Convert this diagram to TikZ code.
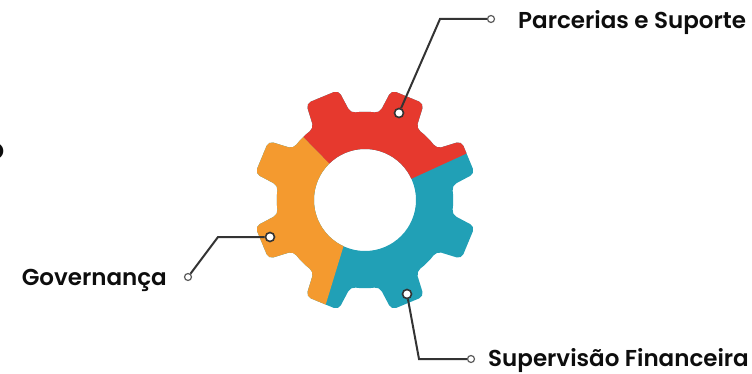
\documentclass[tikz,border=0pt]{standalone}
\usepackage{fontspec}
\setmainfont{Poppins}[BoldFont={Poppins SemiBold}]
\definecolor{gred}{HTML}{E6392E}
\definecolor{gorange}{HTML}{F49A2F}
\definecolor{gteal}{HTML}{21A0B6}
\definecolor{lineclr}{HTML}{333333}
\tikzset{
  conn/.style={draw=lineclr, line width=2pt},
  gdot/.style={circle, draw=lineclr, fill=white, line width=1.6pt, minimum size=9pt, inner sep=0pt},
  edot/.style={circle, draw=lineclr!80, fill=white, line width=1.2pt, minimum size=7pt, inner sep=0pt},
  lbl/.style={inner sep=0pt, font=\fontsize{23}{27}\selectfont\bfseries, text=black!95},
}
\newcommand{\gearoutline}{(-9.4:88)
  \foreach \a in {22.5,67.5,...,292.5}{
    arc[start angle=\a-45+13.1, end angle=\a-13.1, radius=88]
    -- (\a-8.9:113) -- (\a+8.9:113) -- (\a+13.1:88) }
  arc[start angle=337.5-45+13.1, end angle=337.5-13.1, radius=88]
  -- (337.5-8.9:113) -- (337.5+8.9:113) -- cycle}
\begin{document}
\begin{tikzpicture}[x=1pt,y=1pt]
\useasboundingbox (0,0) rectangle (752,-374);
% gear
\begin{scope}[shift={(365,-200)}]
  \fill[gteal, even odd rule, rounded corners=5pt] \gearoutline (0,0) circle[radius=51];
  \begin{scope}
    \clip (0,0) -- (24.6:200) -- (200,200) -- (134.5:200) -- cycle;
    \fill[gred, even odd rule, rounded corners=5pt] \gearoutline (0,0) circle[radius=51];
  \end{scope}
  \begin{scope}
    \clip (0,0) -- (134.5:200) -- (-250,142.6) -- (-250,-200) -- (-68.4,-200) -- (-7.4,0) -- cycle;
    \fill[gorange, even odd rule, rounded corners=5pt] \gearoutline (0,0) circle[radius=51];
  \end{scope}
\end{scope}
% dots and ends
\node[gdot] (d1) at (399,-113) {};
\node[gdot] (d2) at (270,-237) {};
\node[gdot] (d3) at (407,-294) {};
\node[edot] (e1) at (491,-19) {};
\node[edot] (e2) at (188,-277) {};
\node[edot] (e3) at (471,-359) {};
\coordinate (b1) at (440,-19);
\coordinate (b2) at (218,-237);
\coordinate (b3) at (419,-359);
\draw[conn] (d1) -- (b1) -- (e1);
\draw[conn] (d2) -- (b2) -- (e2);
\draw[conn] (d3) -- (b3) -- (e3);
% labels
\node[lbl, anchor=base west] (t1) at (518,-28.3) {Parcerias e Suporte};
\node[lbl, anchor=base east] (t2) at (167,-285) {Governança};
\node[lbl, anchor=base west] (t3) at (488,-366.7) {Supervisão Financeira};
\node[lbl, anchor=base east] (t4) at (4.5,-160) {O};
\end{tikzpicture}
\end{document}
